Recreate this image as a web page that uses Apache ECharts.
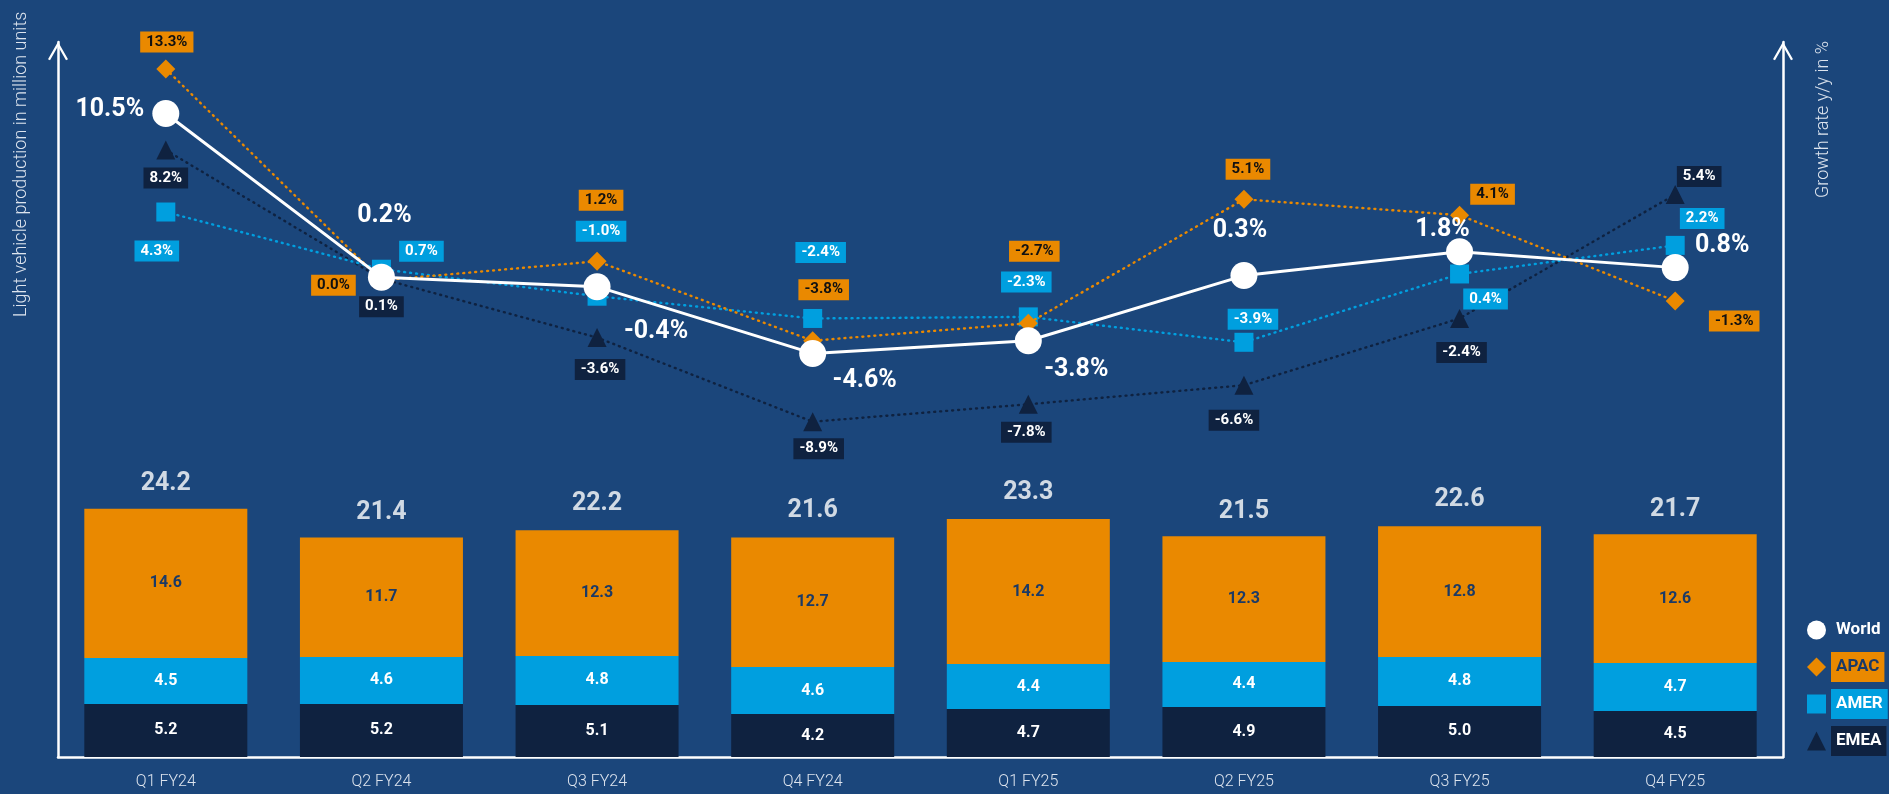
<!DOCTYPE html>
<html>
<head>
<meta charset="utf-8">
<script src="https://cdn.jsdelivr.net/npm/echarts@6/dist/echarts.min.js"></script>
<style>
html,body{margin:0;padding:0;background:#1B467B;}
#chart{width:1889px;height:794px;}
</style>
</head>
<body>
<div id="chart"></div>
<script>
// ---- data ----
const categories = ['Q1 FY24','Q2 FY24','Q3 FY24','Q4 FY24','Q1 FY25','Q2 FY25','Q3 FY25','Q4 FY25'];
const emeaUnits  = [5.2, 5.2, 5.1, 4.2, 4.7, 4.9, 5.0, 4.5];
const amerUnits  = [4.5, 4.6, 4.8, 4.6, 4.4, 4.4, 4.8, 4.7];
const apacUnits  = [14.6, 11.7, 12.3, 12.7, 14.2, 12.3, 12.8, 12.6];
const totalUnits = [24.2, 21.4, 22.2, 21.6, 23.3, 21.5, 22.6, 21.7];
const worldGrowth = [10.5, 0.2, -0.4, -4.6, -3.8, 0.3, 1.8, 0.8];
const apacGrowth  = [13.3, 0.0, 1.2, -3.8, -2.7, 5.1, 4.1, -1.3];
const amerGrowth  = [4.3, 0.7, -1.0, -2.4, -2.3, -3.9, 0.4, 2.2];
const emeaGrowth  = [8.2, 0.1, -3.6, -8.9, -7.8, -6.6, -2.4, 5.4];

// ---- label placement (style, pixel offsets from each marker) ----
const worldLabelOffset = [[-56,-4],[3,-61],[59,45],[52,27],[48,29],[-4,-45],[-17,-22],[47,-22]];
const apacLabelOffset  = [[1,-27],[-48,5],[4,-61],[11,-51],[6,-72],[4,-30],[33,-21],[59,20]];
const amerLabelOffset  = [[-9,39],[40,-18],[4,-65],[8,-66],[-2,-35],[9,-23],[26,25],[27,-27]];
const emeaLabelOffset  = [[0,28],[0,28],[3,32],[6,27],[-2,28],[-10,35],[2,34],[24,-18]];

const C = {bg:'#1B467B', apac:'#EA8900', amer:'#009FDF', emea:'#0F2240', white:'#FFFFFF', apacText:'#1B3A66'};
const FONT = 'Roboto, "Noto Sans", sans-serif';
const chevron = 'path://M0,17.5 L10,0 L20,17.5 L18,18.7 L10,4.6 L2,18.7 Z';

function pct(v){ return v.toFixed(1) + '%'; }

function growthSeries(name, values, offsets, color, symbol, size, labelStyle, lineStyle, z){
  return {
    name: name, type: 'line', yAxisIndex: 1, z: z,
    symbol: symbol, symbolSize: size,
    itemStyle: {color: color, borderWidth: 0},
    lineStyle: lineStyle,
    data: values.map((v, i) => ({
      value: v,
      label: Object.assign({show: true, position: 'inside', offset: offsets[i], formatter: p => pct(p.value)}, labelStyle)
    }))
  };
}

const badge = (bg, fg) => ({backgroundColor: bg, color: fg, fontFamily: FONT, fontWeight: 'bold', fontSize: 15, padding: [3, 6, 2, 6], lineHeight: 16});
const legendText = (fg, bg) => ({color: fg, backgroundColor: bg, fontFamily: FONT, fontWeight: 'bold', fontSize: 17, padding: [7, 5, 6, 5]});

const chart = echarts.init(document.getElementById('chart'), null, {renderer: 'canvas'});
chart.setOption({
  backgroundColor: C.bg,
  animation: false,
  grid: {left: 58, right: 106, top: 42, bottom: 37, containLabel: false},
  xAxis: {
    type: 'category', data: categories,
    axisLine: {onZero: false, lineStyle: {color: C.white, width: 2.5}},
    axisTick: {show: false},
    axisLabel: {color: '#DDE4EE', fontFamily: FONT, fontSize: 16, fontWeight: 300, margin: 17}
  },
  yAxis: [
    {type: 'value', min: 0, max: 70, position: 'left',
     axisLine: {show: true, onZero: false, symbol: ['none', chevron], symbolSize: [20, 19], symbolOffset: [0, -9], lineStyle: {color: C.white, width: 2.5}},
     axisTick: {show: false}, axisLabel: {show: false}, splitLine: {show: false}},
    {type: 'value', min: -30, max: 15, position: 'right',
     axisLine: {show: true, onZero: false, symbol: ['none', chevron], symbolSize: [20, 19], symbolOffset: [0, -9], lineStyle: {color: C.white, width: 2.5}},
     axisTick: {show: false}, axisLabel: {show: false}, splitLine: {show: false}}
  ],
  legend: {
    orient: 'vertical', left: 1802, top: 610, itemWidth: 19, itemHeight: 19, itemGap: 7, selectedMode: false,
    data: [
      {name: 'World', icon: 'circle', textStyle: legendText(C.white, 'transparent')},
      {name: 'APAC', icon: 'diamond', textStyle: legendText(C.apacText, C.apac)},
      {name: 'AMER', icon: 'rect', textStyle: legendText(C.white, C.amer)},
      {name: 'EMEA', icon: 'triangle', textStyle: legendText(C.white, C.emea)}
    ]
  },
  graphic: [
    {type: 'text', x: 21, y: 317, rotation: Math.PI / 2,
     style: {text: 'Light vehicle production in million units', fill: '#DDE4EE', font: '300 18px ' + FONT, align: 'left', verticalAlign: 'middle'}},
    {type: 'text', x: 1823, y: 198, rotation: Math.PI / 2,
     style: {text: 'Growth rate y/y in %', fill: '#DDE4EE', font: '300 18px ' + FONT, align: 'left', verticalAlign: 'middle'}}
  ],
  series: [
    {name: 'EMEA units', type: 'bar', stack: 'units', yAxisIndex: 0, barWidth: 163, data: emeaUnits,
     itemStyle: {color: C.emea},
     label: {show: true, position: 'inside', color: C.white, fontFamily: FONT, fontWeight: 'bold', fontSize: 16, formatter: p => p.value.toFixed(1)}},
    {name: 'AMER units', type: 'bar', stack: 'units', yAxisIndex: 0, barWidth: 163, data: amerUnits,
     itemStyle: {color: C.amer},
     label: {show: true, position: 'inside', color: C.white, fontFamily: FONT, fontWeight: 'bold', fontSize: 16, formatter: p => p.value.toFixed(1)}},
    {name: 'APAC units', type: 'bar', stack: 'units', yAxisIndex: 0, barWidth: 163, data: apacUnits,
     itemStyle: {color: C.apac},
     label: {show: true, position: 'inside', color: C.apacText, fontFamily: FONT, fontWeight: 'bold', fontSize: 16, formatter: p => p.value.toFixed(1)}},
    {name: 'Total units', type: 'scatter', yAxisIndex: 0, data: totalUnits, symbolSize: 1,
     itemStyle: {color: 'rgba(0,0,0,0)'},
     label: {show: true, position: 'inside', offset: [0, -26], color: C.white, fontFamily: FONT, fontWeight: 'bold', fontSize: 25, formatter: p => p.value.toFixed(1)}},
    growthSeries('EMEA', emeaGrowth, emeaLabelOffset, C.emea, 'triangle', 19, badge(C.emea, C.white),
      {color: C.emea, width: 2.4, type: [1, 5], cap: 'round'}, 3),
    growthSeries('AMER', amerGrowth, amerLabelOffset, C.amer, 'rect', 19, badge(C.amer, C.white),
      {color: C.amer, width: 2.4, type: [1, 5], cap: 'round'}, 4),
    growthSeries('APAC', apacGrowth, apacLabelOffset, C.apac, 'diamond', 19, badge(C.apac, '#111111'),
      {color: C.apac, width: 2.4, type: [1, 5], cap: 'round'}, 5),
    growthSeries('World', worldGrowth, worldLabelOffset, C.white, 'circle', 27,
      {color: C.white, fontFamily: FONT, fontWeight: 'bold', fontSize: 25},
      {color: C.white, width: 3, type: 'solid'}, 6)
  ]
});
</script>
</body>
</html>
